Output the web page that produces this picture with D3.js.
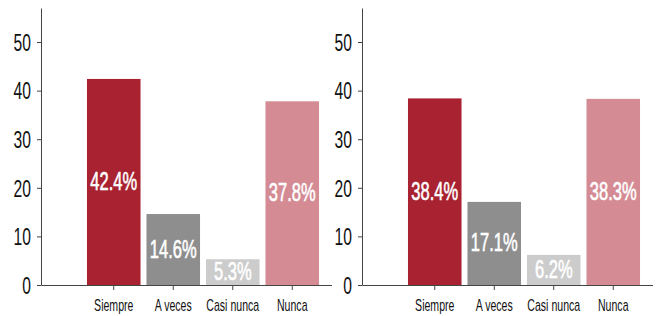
<!DOCTYPE html>
<html>
<head>
<meta charset="utf-8">
<script src="https://cdn.jsdelivr.net/npm/d3@7"></script>
<style>
  body { margin: 0; background: #fff; }
  svg text { font-family: "Liberation Sans", Arial, sans-serif; }
</style>
</head>
<body>
<svg id="chart" width="666" height="316"></svg>
<script>
const categories = ["Siempre", "A veces", "Casi nunca", "Nunca"];
const valuesLeft = [42.4, 14.6, 5.3, 37.8];
const valuesRight = [38.4, 17.1, 6.2, 38.3];
const yTicks = [0, 10, 20, 30, 40, 50];
const barColors = ["#a82231", "#8e8e8e", "#cccccc", "#d48b94"];

const svg = d3.select("#chart");

// the original lettering is condensed, so Liberation Sans gets squeezed sideways
function drawPanel(originX, values) {
  const g = svg.append("g").attr("transform", "translate(" + originX + ",0)");

  const y = d3.scaleLinear()
    .domain([0, 57])
    .range([285, 8]);

  const x = d3.scaleBand()
    .domain(categories)
    .range([43, 281])
    .paddingInner(0.1)
    .paddingOuter(0.05);

  // bars
  g.selectAll(".bar")
    .data(values)
    .enter()
    .append("rect")
    .attr("x", (d, i) => x(categories[i]))
    .attr("y", d => y(d))
    .attr("width", x.bandwidth())
    .attr("height", d => y(0) - y(d))
    .attr("fill", (d, i) => barColors[i]);

  // value labels
  g.selectAll(".val")
    .data(values)
    .enter()
    .append("text")
    .attr("transform", (d, i) =>
      "translate(" + (x(categories[i]) + x.bandwidth() / 2) + "," + ((y(d) + y(0)) / 2 - 1) + ") scale(0.66,1)")
    .attr("dy", "0.36em")
    .attr("text-anchor", "middle")
    .attr("fill", "#fff")
    .attr("stroke", "#fff")
    .attr("stroke-width", 0.6)
    .style("font-size", "25px")
    .text(d => d.toFixed(1) + "%");

  // y axis
  const yAxis = g.append("g")
    .call(d3.axisLeft(y).tickValues(yTicks).tickSize(4).tickSizeOuter(0));
  yAxis.select(".domain").attr("stroke", "#444");
  yAxis.selectAll(".tick line").attr("stroke", "#444");
  yAxis.selectAll(".tick text")
    .attr("x", 0)
    .attr("dy", "0.36em")
    .attr("transform", "translate(-10,0) scale(0.68,1)")
    .attr("fill", "#111")
    .style("font-size", "23px");

  // x axis
  const xAxis = g.append("g")
    .attr("transform", "translate(0," + y(0) + ")")
    .call(d3.axisBottom(x).tickSize(5).tickSizeOuter(0));
  xAxis.select(".domain").attr("d", "M0.5,0.5H291");
  xAxis.selectAll(".domain, .tick line").attr("stroke", "#444");
  xAxis.selectAll(".tick text")
    .attr("y", 0)
    .attr("dy", 0)
    .attr("transform", "translate(0,25.5) scale(0.66,1)")
    .attr("fill", "#111")
    .style("font-size", "16px");
}

drawPanel(41, valuesLeft);
drawPanel(362, valuesRight);
</script>
</body>
</html>
